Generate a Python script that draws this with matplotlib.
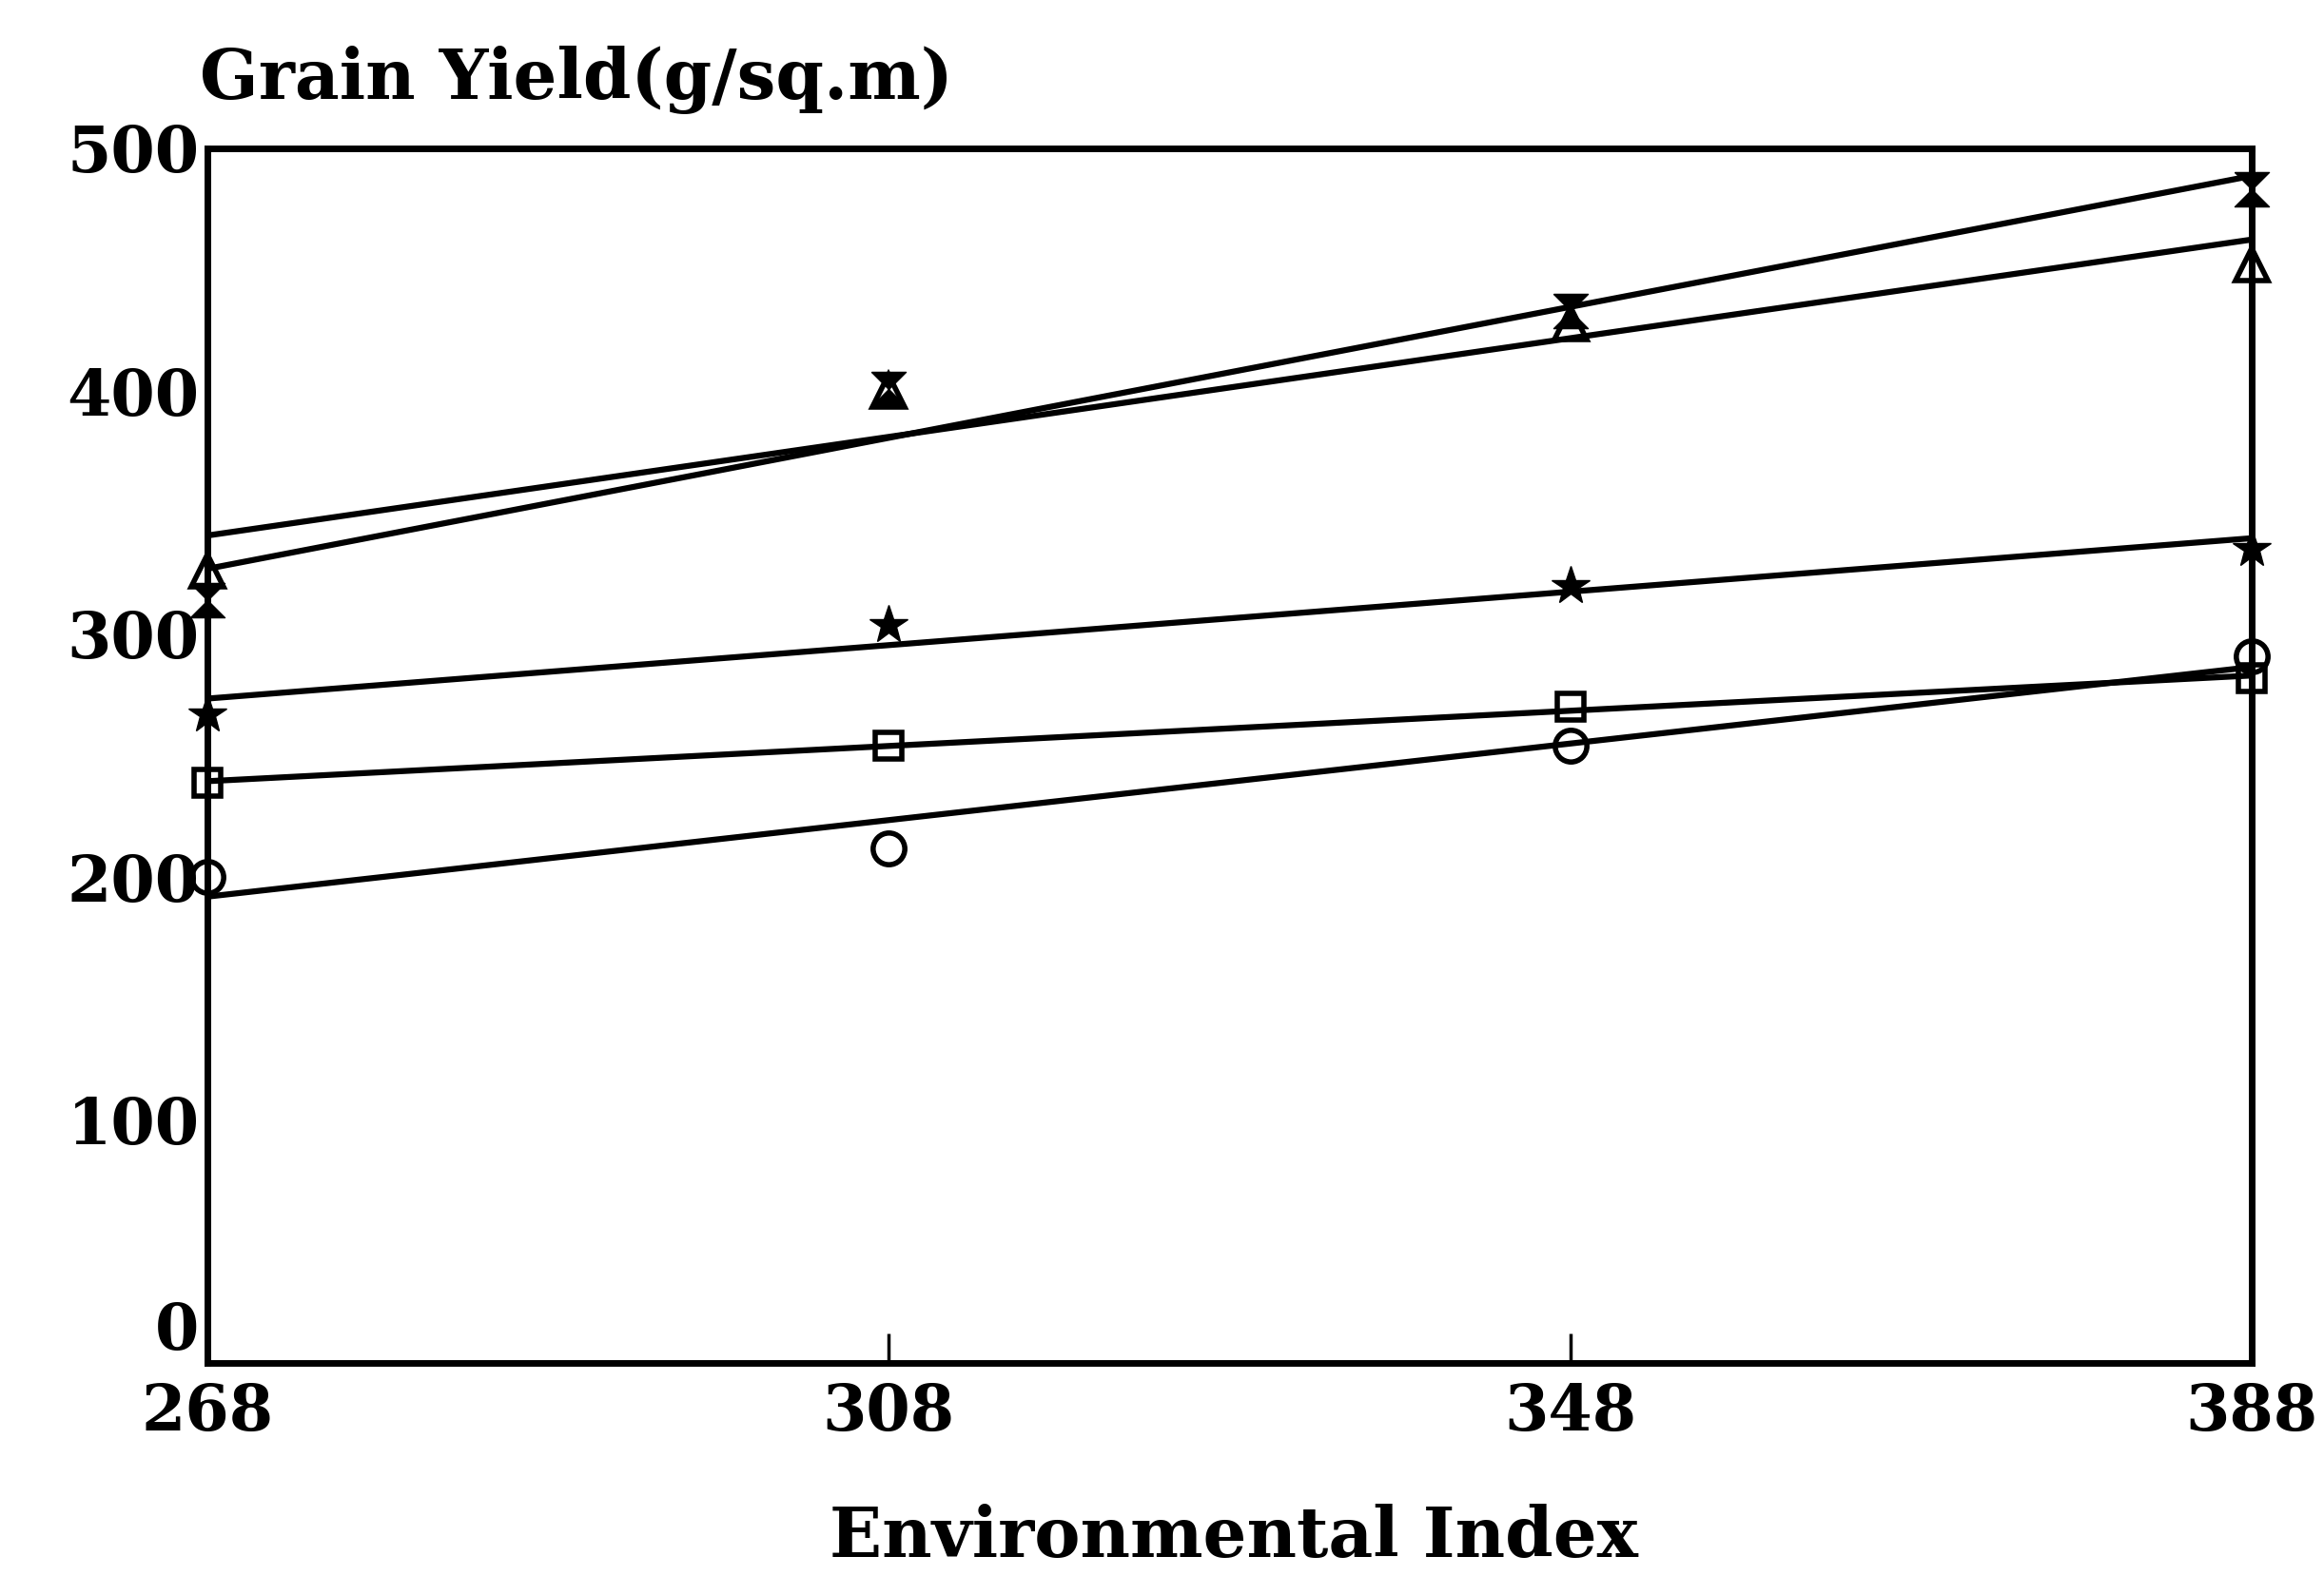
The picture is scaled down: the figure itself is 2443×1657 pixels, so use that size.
import numpy as np
import matplotlib
matplotlib.use("Agg")
import matplotlib.pyplot as plt

env_index = [268, 308, 348, 388]
series_hourglass = [314, 401, 433, 483]
series_triangle = [326, 400, 428, 452]
series_star = [267, 304, 320, 335]
series_square = [239, 254, 270, 282]
series_circle = [200, 212, 254, 291]

x_ticks = [268, 308, 348, 388]
y_ticks = [0, 100, 200, 300, 400, 500]

FONT = dict(family="DejaVu Serif", weight="bold")

fig = plt.figure(figsize=(24.43, 16.57), dpi=100)
ax = fig.add_axes([0.0892, 0.135, 0.8798, 0.771])

hourglass = [(-1, 1), (1, 1), (-1, -1), (1, -1), (-1, 1)]
styles = [
    (series_hourglass, dict(marker=hourglass, markersize=26, markerfacecolor="black")),
    (series_triangle, dict(marker="^", markersize=24, markerfacecolor="none", markeredgewidth=4)),
    (series_star, dict(marker="*", markersize=30, markerfacecolor="black")),
    (series_square, dict(marker="s", markersize=20, markerfacecolor="none", markeredgewidth=4)),
    (series_circle, dict(marker="o", markersize=24, markerfacecolor="none", markeredgewidth=4)),
]

xs = np.array(env_index, dtype=float)
xline = np.array([x_ticks[0], x_ticks[-1]], dtype=float)
for vals, st in styles:
    slope, icpt = np.polyfit(xs, np.array(vals, dtype=float), 1)
    ax.plot(xline, slope * xline + icpt, color="black", lw=4.5, solid_capstyle="butt", zorder=2)
    ax.plot(xs, vals, linestyle="none", color="black", markeredgecolor="black",
            clip_on=False, zorder=3, **st)

ax.set_xlim(268, 388)
ax.set_ylim(0, 500)
ax.set_xticks(x_ticks)
ax.set_xticklabels([str(v) for v in x_ticks], fontsize=48, **FONT)
ax.set_yticks(y_ticks)
ax.set_yticklabels([str(v) for v in y_ticks], fontsize=48, **FONT)
ax.get_yticklabels()[0].set_va("bottom")
ax.tick_params(axis="x", direction="in", length=22, width=2.5, pad=14)
ax.tick_params(axis="y", length=0, pad=6)
for sp in ax.spines.values():
    sp.set_linewidth(5)

fig.text(0.086, 0.937, "Grain Yield(g/sq.m)", fontsize=52, va="baseline", ha="left", **FONT)
fig.text(0.531, 0.012, "Environmental Index", fontsize=52, va="baseline", ha="center", **FONT)

fig.savefig("out.png", dpi=100, facecolor="white")
